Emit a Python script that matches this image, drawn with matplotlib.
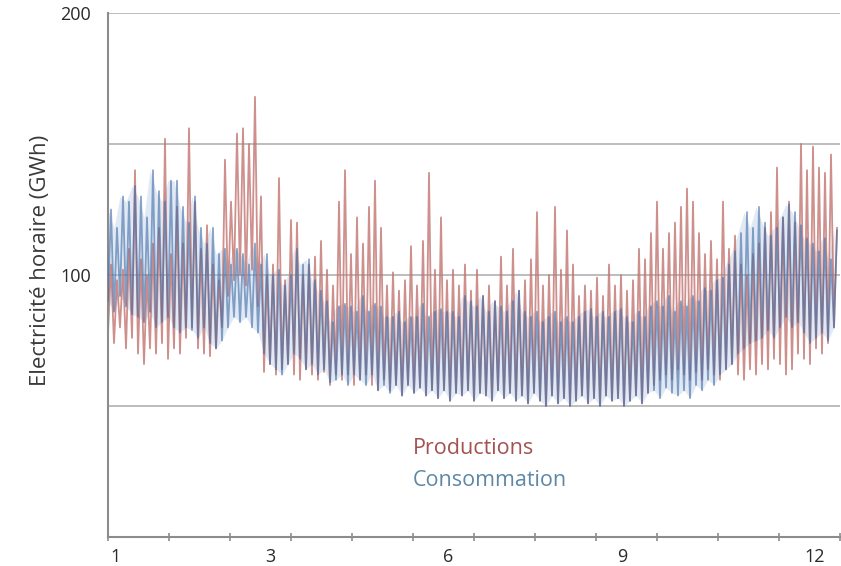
import numpy as np
import matplotlib.pyplot as plt

# valeurs lues sur le graphique, pas de 3 jours (bas / haut de chaque pas)
cons_high = [125, 118, 130, 128, 134, 130, 122, 140, 132, 128,
             136, 136, 126, 120, 130, 118, 112, 118, 108, 110,
             104, 110, 108, 104, 112, 104, 108, 100, 102, 96,
             100, 110, 104, 106, 98, 94, 90, 82, 88, 89,
             88, 86, 92, 86, 89, 88, 84, 84, 86, 82,
             84, 84, 89, 84, 86, 87, 86, 86, 84, 92,
             90, 88, 92, 86, 90, 88, 86, 90, 94, 86,
             84, 86, 82, 84, 86, 82, 84, 82, 84, 86,
             87, 84, 86, 84, 86, 87, 84, 82, 86, 84,
             88, 90, 88, 92, 86, 90, 88, 92, 90, 95,
             94, 98, 99, 104, 109, 116, 124, 118, 126, 120,
             115, 118, 122, 127, 124, 119, 114, 112, 109, 114,
             106, 117]
cons_low = [90, 86, 92, 88, 85, 84, 82, 86, 80, 82,
            84, 80, 78, 80, 79, 76, 80, 74, 72, 75,
            80, 84, 82, 84, 80, 78, 70, 66, 64, 62,
            66, 70, 68, 64, 66, 62, 64, 59, 60, 62,
            58, 62, 60, 58, 62, 56, 58, 55, 58, 54,
            58, 55, 57, 54, 56, 53, 56, 52, 55, 54,
            56, 52, 55, 54, 52, 56, 53, 55, 52, 54,
            51, 55, 52, 50, 54, 51, 53, 50, 52, 54,
            51, 53, 50, 54, 52, 53, 50, 52, 54, 51,
            55, 56, 53, 57, 55, 54, 56, 53, 58, 56,
            60, 58, 62, 64, 66, 70, 72, 74, 75, 76,
            79, 76, 80, 84, 80, 82, 78, 74, 76, 78,
            75, 80]

prod_high = [104, 98, 102, 110, 140, 106, 100, 112, 118, 152,
             108, 126, 112, 156, 128, 110, 119, 104, 98, 144,
             128, 154, 156, 150, 168, 130, 100, 104, 137, 98,
             121, 120, 100, 104, 107, 113, 102, 96, 128, 140,
             108, 122, 112, 126, 136, 118, 96, 101, 94, 98,
             111, 96, 113, 139, 102, 122, 98, 102, 96, 104,
             94, 102, 92, 96, 90, 107, 96, 110, 94, 98,
             106, 124, 96, 100, 126, 102, 117, 104, 92, 96,
             94, 99, 92, 104, 96, 100, 94, 98, 110, 106,
             116, 128, 110, 116, 120, 126, 133, 128, 116, 108,
             113, 106, 128, 110, 115, 104, 100, 108, 112, 118,
             124, 141, 122, 128, 120, 150, 140, 149, 141, 139,
             146, 118]
prod_low = [78, 74, 80, 72, 76, 70, 66, 72, 70, 74,
            68, 72, 70, 76, 80, 72, 70, 69, 72, 80,
            92, 98, 100, 96, 102, 88, 63, 66, 62, 64,
            66, 62, 60, 64, 62, 60, 63, 58, 62, 60,
            62, 58, 60, 62, 58, 56, 60, 56, 58, 54,
            58, 55, 57, 54, 56, 53, 56, 52, 55, 54,
            56, 52, 55, 54, 52, 56, 53, 55, 52, 54,
            51, 55, 52, 50, 54, 51, 53, 50, 52, 54,
            51, 53, 50, 54, 52, 53, 50, 52, 54, 51,
            55, 58, 60, 62, 60, 64, 62, 60, 63, 60,
            64, 62, 60, 64, 66, 62, 60, 64, 62, 66,
            64, 68, 66, 62, 64, 70, 68, 66, 72, 70,
            74, 80]

month_labels = ['1', '3', '6', '9', '12']


def zigzag(lows, highs):
    # bas au debut du pas, haut au milieu du pas, en mois (0 -> 12)
    n = len(lows)
    step = 12 / n
    x = np.empty(2 * n)
    y = np.empty(2 * n)
    x[0::2] = np.arange(n) * step
    x[1::2] = (np.arange(n) + 0.5) * step
    y[0::2] = lows
    y[1::2] = highs
    return x, y


plt.rcParams['font.family'] = ['Open Sans', 'DejaVu Sans']

fig = plt.figure(figsize=(8.41, 5.66), dpi=100)
ax = fig.add_axes([108 / 841, 29 / 566, 732 / 841, 524 / 566])

for yv in [50, 100, 150, 200]:
    ax.axhline(yv, color='#bdbdbd', lw=1.4, zorder=0)

xs = np.arange(len(cons_low)) * 12 / len(cons_low)

# fond clair de la consommation
ax.fill_between(xs, cons_low, cons_high, color='#a9c4e0', alpha=0.35, lw=0, zorder=1)

# production
xp, yp = zigzag(prod_low, prod_high)
ax.plot(xp, yp, color='#c27470', lw=1.3, alpha=0.8, zorder=2)

# consommation
xc, yc = zigzag(cons_low, cons_high)
ax.plot(xc, yc, color='#3e6aa6', lw=1.3, alpha=0.6, zorder=3)

ax.set_xlim(0, 12)
ax.set_ylim(0, 200)

for side in ['top', 'right']:
    ax.spines[side].set_visible(False)
for side in ['left', 'bottom']:
    ax.spines[side].set_color('#8c8c8c')
    ax.spines[side].set_linewidth(1.5)

ax.set_yticks([100, 200])
ax.set_yticklabels(['100', '200'], fontsize=13, color='#2a2a2a')
ax.tick_params(axis='y', length=0, pad=12)

ax.set_xticks(range(13))
ax.set_xticklabels([])
ax.tick_params(axis='x', which='major', direction='inout', length=6,
               width=1.2, color='#8c8c8c')
ax.set_xticks([0.13, 2.67, 5.57, 8.43, 11.59], minor=True)
ax.set_xticklabels(month_labels, minor=True, fontsize=13, color='#2a2a2a')
ax.tick_params(axis='x', which='minor', length=0, pad=8)

fig.text(41 / 841, 1 - 260 / 566, 'Electricité horaire (GWh)', rotation=90,
         ha='center', va='center', fontsize=16, color='#3a3a3a')

ax.text((413 - 108) / 732, (537 - 448) / 524, 'Productions', transform=ax.transAxes,
        ha='left', va='center', fontsize=15.5, color='#a3524f')
ax.text((413 - 108) / 732, (537 - 480) / 524, 'Consommation', transform=ax.transAxes,
        ha='left', va='center', fontsize=15.5, color='#5f88a6')

fig.savefig('out.png', dpi=100)
